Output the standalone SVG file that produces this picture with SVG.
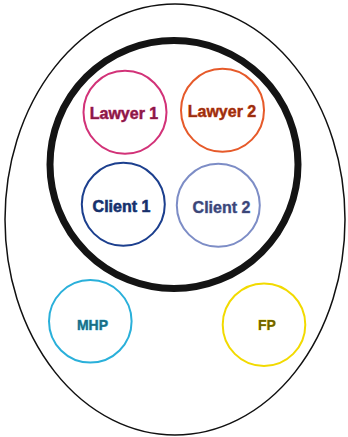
<svg xmlns="http://www.w3.org/2000/svg" width="348" height="437" viewBox="0 0 348 437">
<style>
.c{fill:none;stroke-width:2}
.t{font-family:"Liberation Sans",Arial,sans-serif;font-weight:bold;text-anchor:middle;stroke-width:0.6;paint-order:stroke}
</style>
<rect width="348" height="437" fill="#fff"/>
<ellipse id="outer" cx="175" cy="219.5" rx="170" ry="215.5" fill="none" stroke="#111" stroke-width="1.5"/>
<circle id="group" cx="174" cy="164.5" r="124" fill="none" stroke="#141414" stroke-width="7"/>
<g id="lawyer1"><circle class="c" cx="125" cy="112.3" r="41.5" stroke="#D23278"/><text class="t" x="124" y="119" font-size="16" fill="#8A1846" stroke="#D23278">Lawyer 1</text></g>
<g id="lawyer2"><circle class="c" cx="222.5" cy="110.3" r="41.5" stroke="#E65A2A"/><text class="t" x="222" y="117" font-size="16" fill="#9A2E0E" stroke="#E65A2A">Lawyer 2</text></g>
<g id="client1"><circle class="c" cx="123.3" cy="204.3" r="41.5" stroke="#1C3F8E"/><text class="t" x="121.5" y="212" font-size="16" fill="#17306A" stroke="#1C3F8E">Client 1</text></g>
<g id="client2"><circle class="c" cx="218.3" cy="205.3" r="41.5" stroke="#7D8DC6"/><text class="t" x="221.5" y="212.5" font-size="16" fill="#3C4676" stroke="#7D8DC6">Client 2</text></g>
<g id="mhp"><circle class="c" cx="90.3" cy="321.3" r="41.3" stroke="#2AB0DA"/><text class="t" x="92.5" y="330" font-size="14" fill="#1A6E84" stroke="#2AB0DA">MHP</text></g>
<g id="fp"><circle class="c" cx="264" cy="324.7" r="41.3" stroke="#F2DA00"/><text class="t" x="267" y="330" font-size="14" fill="#6E6200" stroke="#F2DA00">FP</text></g>
<g id="connectors"/>
</svg>
